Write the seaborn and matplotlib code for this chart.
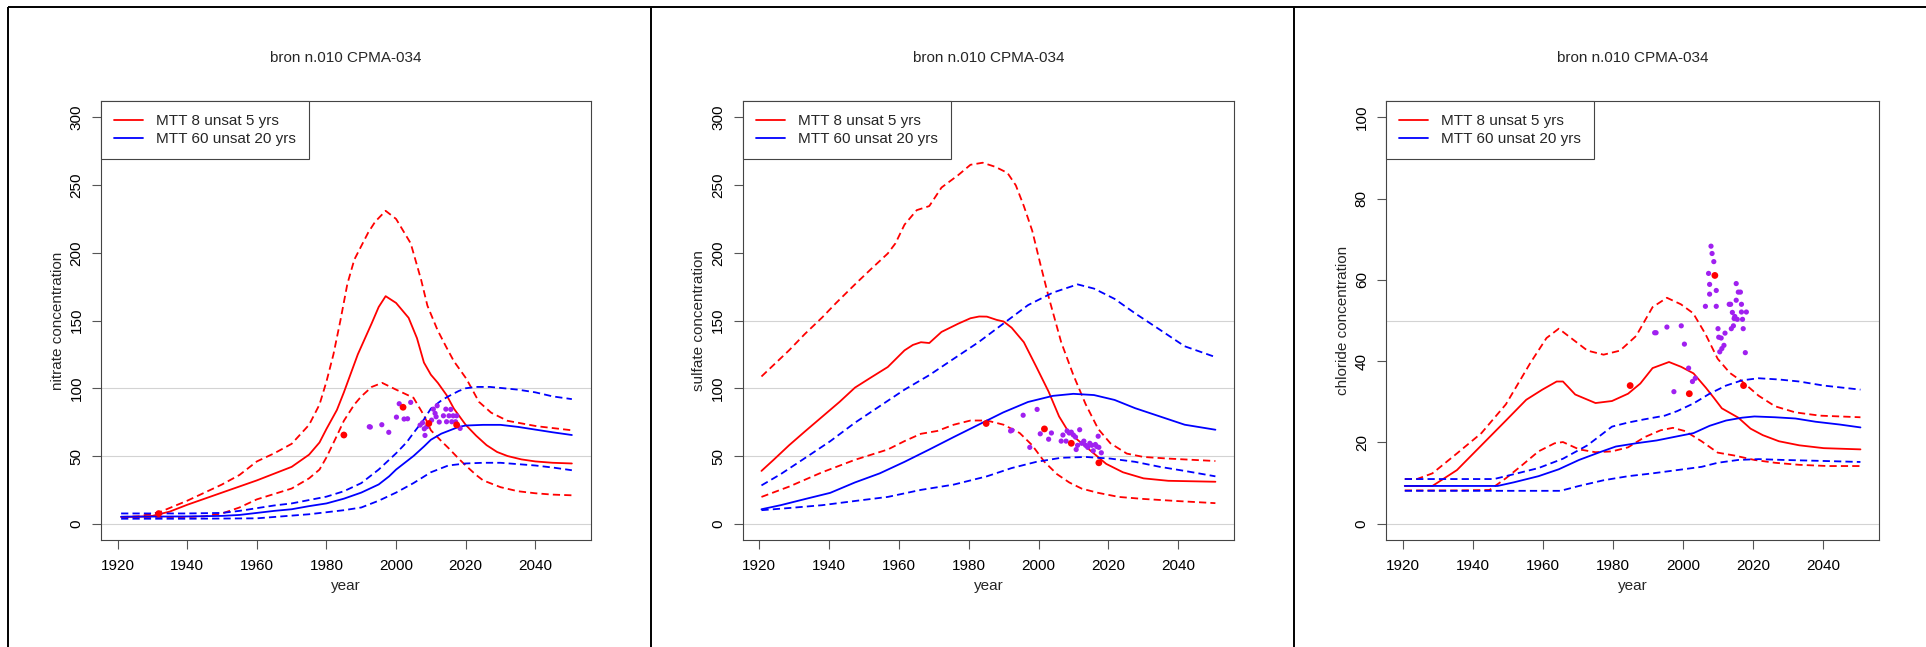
import matplotlib
matplotlib.use("Agg")
import matplotlib.pyplot as plt
from matplotlib.lines import Line2D
import pandas as pd
import seaborn as sns

sns.set_theme(style="white")
plt.rcParams["font.family"] = ["Liberation Sans", "DejaVu Sans"]
plt.rcParams["font.size"] = 11

TITLE = "bron n.010 CPMA-034"
LEGEND_LABELS = ["MTT 8 unsat 5 yrs", "MTT 60 unsat 20 yrs"]
X_TICKS = [1920, 1940, 1960, 1980, 2000, 2020, 2040]

# ---------------- nitrate ----------------
no3_red_mid_x = [1921, 1926, 1930, 1935, 1940, 1945, 1950, 1955, 1960, 1965, 1970, 1975, 1978,
                 1980, 1983, 1985, 1989, 1993, 1995, 1997, 2000, 2003.6, 2006, 2008, 2010, 2012,
                 2014.5, 2016.6, 2020, 2023, 2026, 2029, 2032, 2036, 2040, 2045, 2050.5]
no3_red_mid_y = [5, 5.2, 5.8, 9, 14, 18.5, 23, 27.5, 32, 37, 42, 51, 60, 70, 84, 97, 125, 148,
                 160, 168, 163, 152, 137, 119, 110, 104, 95, 85, 73, 65, 58, 53, 50, 47.5, 46,
                 45, 44.5]
no3_red_hi_x = [1921, 1926, 1932, 1940, 1945, 1950, 1955, 1960, 1965, 1970, 1975, 1978, 1980,
                1982, 1984, 1986, 1988, 1990, 1992, 1994, 1997, 2000, 2004.2, 2007.2, 2009,
                2011.9, 2014.3, 2016.6, 2020.2, 2023.8, 2027.3, 2032, 2040.4, 2050.5]
no3_red_hi_y = [5, 5.5, 8.5, 17, 23, 29, 36, 46, 52, 59, 73, 88, 105, 125, 150, 177, 195, 205,
                215, 223, 231, 225, 207, 180, 161, 143, 131, 120, 107, 90, 82, 76, 72, 69]
no3_red_lo_x = [1921, 1930, 1940, 1945, 1950, 1955, 1960, 1965, 1970, 1975, 1978, 1980, 1983,
                1985, 1988, 1990, 1993, 1996, 2000, 2005, 2008, 2010, 2013, 2015, 2018, 2020,
                2023, 2025, 2030, 2035, 2040, 2045, 2050.5]
no3_red_lo_y = [5, 5, 5, 5.5, 7.6, 12, 18, 22, 26, 33.5, 40, 49, 65, 76, 88, 94, 101, 104, 99,
                93, 80, 69, 61, 56, 48, 43, 36, 32, 27, 24, 22.5, 21.5, 21]
no3_blue_mid_x = [1921, 1940, 1950, 1955, 1960, 1965, 1970, 1975, 1980, 1985, 1990, 1995, 1998,
                  2000, 2003, 2005, 2008, 2010, 2013, 2015, 2018, 2020, 2025, 2030, 2035, 2040,
                  2045, 2050.5]
no3_blue_mid_y = [5.2, 5.4, 5.8, 6.5, 8, 9.5, 10.7, 13, 15, 18.5, 23, 29, 35, 40, 46, 50, 57,
                  62, 66.5, 68.5, 71.5, 72.5, 73, 73, 71.5, 69.5, 67.5, 65.5]
no3_blue_hi_x = [1921, 1940, 1950, 1955, 1960, 1965, 1970, 1975, 1980, 1985, 1990, 1995, 2000,
                 2003, 2005, 2008, 2010, 2013, 2015, 2018, 2020, 2023, 2027, 2031, 2035, 2040,
                 2045, 2050.5]
no3_blue_hi_y = [7.6, 7.6, 8, 9.5, 11.5, 13.5, 15, 17.5, 20, 24, 30, 40, 52, 60, 67, 77, 85,
                 91, 94, 98, 100, 101, 101, 100, 99, 97, 94, 92]
no3_blue_lo_x = [1921, 1940, 1960, 1965, 1970, 1975, 1980, 1985, 1990, 1995, 2000, 2005, 2010,
                 2015, 2020, 2025, 2030, 2035, 2040, 2045, 2050.5]
no3_blue_lo_y = [3.7, 3.7, 4, 5, 6, 7, 8.5, 10, 12, 17, 23, 30, 38, 43, 44.5, 45, 45, 44, 43,
                 41.5, 39.5]
no3_obs_x = [1992.3, 1992.6, 1995.9, 1997.9, 2000.1, 2000.9, 2002.3, 2003.3, 2004.2, 2006.9,
             2007.6, 2008.1, 2008.3, 2008.8, 2010.2, 2010.7, 2011.2, 2011.5, 2011.8, 2012.4,
             2013.6, 2014.3, 2014.5, 2015.2, 2015.7, 2016.0, 2016.4, 2017.1, 2017.4, 2018.4]
no3_obs_y = [71.6, 71.4, 73.1, 67.5, 78.7, 88.6, 77.3, 77.5, 89.6, 72.8, 74.5, 70.1, 65.2, 71.6,
             76.5, 84.6, 81.5, 79.0, 87.1, 75.1, 79.7, 84.6, 75.3, 79.7, 84.4, 75.3, 79.7, 75.3,
             79.7, 70.4]
no3_sel_x = [1931.8, 1985.0, 2002.0, 2009.4, 2017.4]
no3_sel_y = [7.5, 65.5, 86.0, 74.0, 73.0]

# ---------------- sulfate ----------------
so4_red_mid_x = [1920.6, 1924, 1928.5, 1933, 1938, 1943, 1947.4, 1952, 1956.8, 1961.6, 1964,
                 1966.3, 1968.7, 1972.2, 1977, 1980.5, 1983, 1985.2, 1988, 1990, 1992.3, 1995.8,
                 1999.4, 2002.9, 2005.9, 2008.8, 2012.4, 2015.9, 2019.4, 2024.2, 2030.1, 2037.2,
                 2050.7]
so4_red_mid_y = [39, 47, 57.9, 68, 79, 90, 100.5, 108, 115.7, 128, 132, 134, 133.4, 141.6,
                 147.7, 151.7, 153, 152.9, 150.5, 149.3, 144.7, 134, 115.7, 97.5, 79.2, 67,
                 59.4, 51.8, 44.2, 38, 33.5, 31.7, 31]
so4_red_hi_x = [1920.6, 1924, 1928.5, 1933, 1938, 1942, 1947.4, 1952, 1956.8, 1959, 1961.6,
                1965.1, 1968.7, 1972.2, 1977, 1980.5, 1984, 1987.6, 1991.1, 1993.5, 1995.8,
                1998.2, 2000.5, 2002.9, 2006.5, 2010, 2013.5, 2017.1, 2020.6, 2025.3, 2030.1,
                2037.2, 2050.7]
so4_red_hi_y = [108.7, 117, 128, 140, 152.3, 163, 176.7, 188, 199.5, 207, 220.8, 231.5, 234.5,
                248.2, 257.4, 265, 266.5, 263.5, 259, 249.8, 234.5, 216.3, 192, 167.5, 134,
                109.7, 88.3, 70, 59.4, 51.8, 49.3, 48.1, 46.3]
so4_red_lo_x = [1920.6, 1928.5, 1938, 1947.4, 1956.8, 1961.6, 1966.3, 1971, 1975.7, 1980.5,
                1985.2, 1990, 1994.6, 1998.2, 2001.7, 2005.3, 2008.8, 2012.4, 2017.1, 2023,
                2030.1, 2039.5, 2050.7]
so4_red_lo_y = [19.8, 27.4, 38, 47.2, 54.8, 61, 66.4, 68.5, 73.1, 76.2, 76.2, 73.1, 67, 57.9,
                45.7, 36.6, 30.5, 25.9, 22.8, 19.8, 18.3, 16.8, 15.2]
so4_blue_mid_x = [1920.6, 1926.1, 1933.2, 1940.3, 1947.4, 1954.5, 1961.6, 1968.7, 1975.7,
                  1982.8, 1989.9, 1997, 2004.1, 2010, 2015.9, 2021.8, 2027.7, 2034.8, 2041.9,
                  2050.7]
so4_blue_mid_y = [10.7, 13.7, 18.3, 22.8, 30.5, 37.2, 45.7, 54.8, 64, 73.1, 82.2, 89.9, 94.4,
                  95.9, 95, 91.4, 85.3, 79.2, 73.1, 69.4]
so4_blue_hi_x = [1920.6, 1926.1, 1933.2, 1940.3, 1947.4, 1954.5, 1961.6, 1968.7, 1975.7, 1982.8,
                 1989.9, 1997, 2004.1, 2011.2, 2015.9, 2021.8, 2027.7, 2034.8, 2041.9, 2050.2]
so4_blue_hi_y = [28.3, 36.6, 48.7, 60.9, 74.6, 86.8, 99, 109.7, 121.8, 134, 147.7, 161.4,
                 170.6, 176.7, 173.6, 166, 155.3, 143.2, 131, 123.5]
so4_blue_lo_x = [1920.6, 1928.5, 1938, 1947.4, 1956.8, 1966.3, 1975.7, 1985.2, 1992.3, 1999.4,
                 2006.5, 2013.5, 2020.6, 2027.7, 2034.8, 2041.9, 2050.7]
so4_blue_lo_y = [10, 11.6, 13.7, 16.8, 19.8, 25, 28.9, 35, 41.1, 45.7, 48.7, 49.3, 48.1, 45.7,
                 42, 39, 35]
so4_obs_x = [1992, 1992.4, 1995.6, 1997.5, 1999.6, 2000.5, 2002.9, 2003.7, 2006.5, 2007, 2007.9,
             2008.2, 2008.8, 2009.4, 2010, 2010.6, 2010.8, 2011.2, 2011.8, 2012.4, 2013, 2013.5,
             2014.1, 2014.7, 2015.3, 2015.7, 2016.3, 2016.7, 2017.1, 2017.3, 2018]
so4_obs_y = [68.5, 69, 80.1, 56.4, 84.4, 66.4, 62.4, 67, 61, 65.5, 61, 68.5, 67, 67.6, 65.5, 64,
             54.8, 57.9, 69.4, 59.4, 61, 57.9, 56.4, 59.4, 57.9, 53.9, 58.5, 57, 64.6, 56.4,
             52.4]
so4_sel_x = [1985.0, 2001.7, 2009.4, 2017.3]
so4_sel_y = [74.0, 70.0, 59.4, 45.0]

# ---------------- chloride ----------------
cl_red_mid_x = [1920.5, 1928.4, 1935.4, 1942.4, 1949.4, 1955.2, 1959.8, 1963.9, 1965.7, 1969.2,
                1975, 1979.7, 1984.3, 1987.8, 1991.3, 1996, 1999.5, 2003, 2006.5, 2008.8, 2011.1,
                2015.8, 2019.3, 2022.8, 2027.4, 2033.2, 2040.2, 2050.7]
cl_red_mid_y = [9.3, 9.3, 13.2, 19.3, 25.4, 30.5, 33, 35, 35, 31.8, 29.7, 30.2, 32, 34.5, 38.3,
                39.8, 38.6, 37, 33.5, 31, 28.4, 26.1, 23.4, 21.8, 20.3, 19.3, 18.6, 18.3]
cl_red_hi_x = [1920.5, 1924, 1928.4, 1935.4, 1942.4, 1949.4, 1956.4, 1961, 1964.5, 1968, 1972.7,
               1977.3, 1982, 1986.6, 1991.3, 1995.4, 1999.4, 2002.9, 2006.4, 2009.9, 2013.4,
               2016.9, 2021.6, 2026.3, 2032.1, 2039.1, 2050.7]
cl_red_hi_y = [11, 11, 12.4, 17.3, 22.3, 29.4, 39.6, 45.7, 48, 45.7, 42.6, 41.6, 42.6, 46.2,
               53.3, 55.6, 54, 51.8, 46.7, 40.6, 37.1, 35, 31.5, 28.9, 27.4, 26.6, 26.2]
cl_red_lo_x = [1920.5, 1935, 1944.7, 1949.4, 1954, 1958.7, 1963.3, 1965.7, 1970.3, 1975, 1979.7,
               1984.3, 1989, 1993.6, 1997.1, 2000.6, 2005.3, 2009.9, 2014.6, 2020.4, 2026.3,
               2033.2, 2041.4, 2050.7]
cl_red_lo_y = [8.2, 8.2, 8.3, 11.2, 14.4, 17.8, 19.8, 20.1, 18.3, 17.6, 17.8, 18.8, 21.3, 23,
               23.6, 22.8, 20.3, 17.5, 16.8, 15.7, 15, 14.5, 14.2, 14.2]
cl_blue_mid_x = [1920.5, 1947, 1951.7, 1958.7, 1964.5, 1970.3, 1976.2, 1980.8, 1986.6, 1992.5,
                 1998.3, 2003, 2007.6, 2012.3, 2016.9, 2020.4, 2026.3, 2032.1, 2037.9, 2044.9,
                 2050.7]
cl_blue_mid_y = [9.3, 9.3, 10.2, 11.7, 13.4, 15.7, 17.6, 19, 19.8, 20.5, 21.5, 22.3, 24.1, 25.4,
                 26.1, 26.4, 26.2, 25.9, 25.1, 24.4, 23.7]
cl_blue_hi_x = [1920.5, 1946, 1951.7, 1958.7, 1965.7, 1972.7, 1979.7, 1984.3, 1989, 1994.8,
                1998.3, 2003, 2007.6, 2012.3, 2016.9, 2021.6, 2027.4, 2033.2, 2040.2, 2050.7]
cl_blue_hi_y = [11, 11, 12.2, 13.7, 16, 19.3, 23.9, 24.9, 25.7, 26.6, 27.7, 29.6, 32, 34, 35.3,
                35.8, 35.5, 35, 34, 33]
cl_blue_lo_x = [1920.5, 1965, 1970.3, 1977.3, 1984.3, 1991.3, 1998.3, 2005.3, 2009.9, 2015.8,
                2021.6, 2028.6, 2037.9, 2050.7]
cl_blue_lo_y = [8.1, 8.1, 9.3, 10.7, 11.7, 12.4, 13.2, 14, 15, 15.7, 15.9, 15.7, 15.5, 15.2]
cl_obs_x = [1991.9, 1992.3, 1995.4, 1997.4, 1999.5, 2000.4, 2001.6, 2002.7, 2003.5, 2006.4,
            2007.3, 2007.6, 2007.6, 2008.0, 2008.3, 2008.8, 2009.5, 2009.5, 2010.0, 2010.2,
            2010.5, 2010.9, 2011.1, 2011.7, 2012.0, 2013.2, 2013.6, 2013.8, 2014.1, 2014.4,
            2014.6, 2014.8, 2015.2, 2015.2, 2015.5, 2015.8, 2016.4, 2016.7, 2016.7, 2017.0,
            2017.2, 2017.8, 2018.1]
cl_obs_y = [47, 47, 48.4, 32.5, 48.7, 44.2, 38.3, 35, 35.8, 53.5, 61.6, 58.9, 56.5, 68.3, 66.5,
            64.5, 57.4, 53.5, 48, 45.9, 42.3, 45.7, 43.1, 43.9, 46.9, 54, 54, 48, 52, 48.7,
            50.5, 51, 59.1, 55, 50.3, 57, 57, 54, 52.1, 50.3, 48, 42.1, 52.1]
cl_sel_x = [1984.9, 2001.8, 2009.1, 2017.3]
cl_sel_y = [34.0, 32.0, 61.1, 34.0]

PANELS = [
    dict(ylabel="nitrate concentration", ymax=300, yticks=[0, 50, 100, 150, 200, 250, 300],
         refs=[0, 50, 100],
         curves=[(no3_red_mid_x, no3_red_mid_y, "red", False),
                 (no3_red_hi_x, no3_red_hi_y, "red", True),
                 (no3_red_lo_x, no3_red_lo_y, "red", True),
                 (no3_blue_mid_x, no3_blue_mid_y, "blue", False),
                 (no3_blue_hi_x, no3_blue_hi_y, "blue", True),
                 (no3_blue_lo_x, no3_blue_lo_y, "blue", True)],
         obs=(no3_obs_x, no3_obs_y), sel=(no3_sel_x, no3_sel_y),
         box=(101.1, 591.0)),
    dict(ylabel="sulfate concentration", ymax=300, yticks=[0, 50, 100, 150, 200, 250, 300],
         refs=[0, 50, 100, 150],
         curves=[(so4_red_mid_x, so4_red_mid_y, "red", False),
                 (so4_red_hi_x, so4_red_hi_y, "red", True),
                 (so4_red_lo_x, so4_red_lo_y, "red", True),
                 (so4_blue_mid_x, so4_blue_mid_y, "blue", False),
                 (so4_blue_hi_x, so4_blue_hi_y, "blue", True),
                 (so4_blue_lo_x, so4_blue_lo_y, "blue", True)],
         obs=(so4_obs_x, so4_obs_y), sel=(so4_sel_x, so4_sel_y),
         box=(742.8, 1233.9)),
    dict(ylabel="chloride concentration", ymax=100, yticks=[0, 20, 40, 60, 80, 100],
         refs=[0, 50],
         curves=[(cl_red_mid_x, cl_red_mid_y, "red", False),
                 (cl_red_hi_x, cl_red_hi_y, "red", True),
                 (cl_red_lo_x, cl_red_lo_y, "red", True),
                 (cl_blue_mid_x, cl_blue_mid_y, "blue", False),
                 (cl_blue_hi_x, cl_blue_hi_y, "blue", True),
                 (cl_blue_lo_x, cl_blue_lo_y, "blue", True)],
         obs=(cl_obs_x, cl_obs_y), sel=(cl_sel_x, cl_sel_y),
         box=(1386.4, 1879.0)),
]

W, H = 1926, 647
TOP, BOTTOM = 101.1, 540.0
FRAME_COL = "#444444"
TICK_COL = "#555555"
FS = 11
LW = 1.3
DASH = (0, (4.0, 2.3))

fig = plt.figure(figsize=(W / 100, H / 100), dpi=100)
fig.patch.set_facecolor("white")

for p in PANELS:
    left, right = p["box"]
    ax = fig.add_axes([left / W, 1 - BOTTOM / H, (right - left) / W, (BOTTOM - TOP) / H])
    ax.set_facecolor("white")

    for lvl in p["refs"]:
        ax.axhline(lvl, color="#d3d3d3", lw=0.8, zorder=0)

    for xs, ys, col, dashed in p["curves"]:
        df = pd.DataFrame({"year": xs, "conc": ys})
        sns.lineplot(data=df, x="year", y="conc", ax=ax, color=col, lw=LW,
                     linestyle=DASH if dashed else "-", estimator=None, sort=False,
                     legend=False, zorder=2)

    ox, oy = p["obs"]
    sns.scatterplot(x=ox, y=oy, ax=ax, color="#a020f0", s=14, linewidth=0,
                    edgecolor="none", legend=False, zorder=3)
    sx, sy = p["sel"]
    sns.scatterplot(x=sx, y=sy, ax=ax, color="red", s=24, linewidth=0,
                    edgecolor="none", legend=False, zorder=4)

    ymax = p["ymax"]
    ax.set_xlim(1915.25, 2056.0)
    ax.set_ylim(-0.04 * ymax, 1.04 * ymax)
    ax.set_xticks(X_TICKS)
    ax.set_yticks(p["yticks"])
    ax.tick_params(axis="both", direction="out", length=6.3, width=0.8, color=TICK_COL,
                   labelsize=FS, labelcolor="black", bottom=True, left=True)
    ax.tick_params(axis="x", pad=7.2)
    ax.tick_params(axis="y", pad=6.4, labelrotation=90)
    for lab in ax.get_yticklabels():
        lab.set_va("center")
    for sp in ax.spines.values():
        sp.set_visible(True)
        sp.set_color(FRAME_COL)
        sp.set_linewidth(0.8)

    ax.set_xlabel("year", fontsize=FS)
    ax.xaxis.set_label_coords(0.5, -(586 - BOTTOM) / (BOTTOM - TOP))
    ax.xaxis.label.set_va("center")
    ax.set_ylabel(p["ylabel"], fontsize=FS)
    ax.yaxis.set_label_coords(-43.5 / (right - left), 0.5)
    ax.yaxis.label.set_va("center")

    ax.text(0.5, (BOTTOM - 57.5) / (BOTTOM - TOP), TITLE, transform=ax.transAxes,
            ha="center", va="center", fontsize=FS)

    handles = [Line2D([0], [0], color="red", lw=LW), Line2D([0], [0], color="blue", lw=LW)]
    leg = ax.legend(handles=handles, labels=LEGEND_LABELS, loc="upper left",
                    bbox_to_anchor=(0, 1), borderaxespad=0, fancybox=False,
                    edgecolor=FRAME_COL, framealpha=1, fontsize=FS, handlelength=1.9,
                    handletextpad=0.85, borderpad=0.85, labelspacing=0.28)
    leg.get_frame().set_linewidth(0.8)

# outer frame lines of the three plot windows
def frame_line(x0, y0, x1, y1):
    fig.add_artist(Line2D([x0 / W, x1 / W], [1 - y0 / H, 1 - y1 / H], color="black",
                          lw=1.4, transform=fig.transFigure, solid_capstyle="butt"))

frame_line(7.5, 7.3, W, 7.3)
for xv in (8.3, 651.0, 1294.0):
    frame_line(xv, 6.5, xv, H)

fig.savefig("out.png", dpi=100, facecolor="white")
